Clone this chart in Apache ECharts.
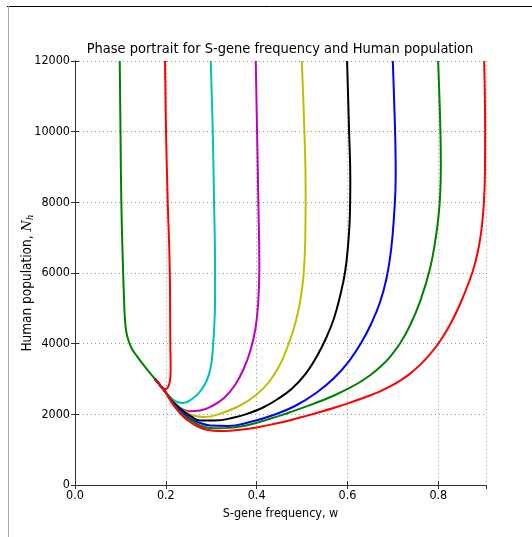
<!DOCTYPE html>
<html><head><meta charset="utf-8">
<script src="https://cdn.jsdelivr.net/npm/echarts@6/dist/echarts.min.js"></script>
<style>html,body{margin:0;padding:0;background:#fff}#c{width:532px;height:537px}</style>
</head><body><div id="c"></div>
<script>
// Tick labels
const xTicks = [0.0, 0.2, 0.4, 0.6, 0.8];
const yTicks = [0, 2000, 4000, 6000, 8000, 10000, 12000];
// Initial S-gene frequencies (one trajectory each)
const startW = [0.1, 0.2, 0.3, 0.4, 0.5, 0.6, 0.7, 0.8, 0.9];
const curveColors = ['#008000', '#ff0000', '#00bfbf', '#bf00bf', '#bfbf00', '#000000', '#0000ff', '#008000', '#ff0000'];

// Trajectories [w, N_h]
const traj01 = [[0.0985,12000],[0.1002,10019],[0.1020,8018],[0.1057,6142],[0.1079,5292],[0.1101,4670],[0.1134,4302],[0.1189,4047],[0.1256,3849],[0.1344,3679],[0.1542,3340],[0.1762,3000],[0.1872,2830],[0.1982,2646]];
const traj02 = [[0.1982,12000],[0.2004,10019],[0.2042,8018],[0.2086,6142],[0.2099,4010],[0.2106,3255],[0.2093,2972],[0.2059,2802],[0.2004,2717],[0.1938,2731],[0.1850,2858],[0.1762,3000]];
const traj03 = [[0.2989,12000],[0.3033,10019],[0.3062,8018],[0.3084,6142],[0.3084,5236],[0.3062,4387],[0.3033,3821],[0.2985,3311],[0.2896,2943],[0.2753,2641],[0.2577,2434],[0.2385,2321],[0.2225,2363],[0.2093,2491],[0.1982,2646],[0.1872,2830],[0.1762,3000]];
const traj04 = [[0.3980,12000],[0.4009,10019],[0.4037,8018],[0.4059,6142],[0.4037,5236],[0.3976,4443],[0.3866,3821],[0.3722,3311],[0.3524,2830],[0.3282,2462],[0.3018,2236],[0.2753,2108],[0.2533,2086],[0.2313,2179],[0.2137,2377],[0.1982,2646],[0.1872,2830],[0.1762,3000]];
const traj05 = [[0.4993,12000],[0.5051,10019],[0.5079,8349],[0.5070,6934],[0.5033,5943],[0.4956,5179],[0.4846,4557],[0.4703,3991],[0.4515,3410],[0.4273,2915],[0.3987,2547],[0.3634,2250],[0.3238,2038],[0.2863,1925],[0.2599,1967],[0.2385,2123],[0.2181,2349],[0.1982,2646],[0.1872,2830],[0.1762,3000]];
const traj06 = [[0.5991,12000],[0.6035,10019],[0.6062,8632],[0.6053,7642],[0.6013,6792],[0.5947,6028],[0.5837,5349],[0.5705,4726],[0.5540,4189],[0.5330,3651],[0.5077,3142],[0.4780,2731],[0.4449,2420],[0.4119,2179],[0.3811,2024],[0.3480,1902],[0.3084,1825],[0.2753,1825],[0.2555,1939],[0.2385,2094],[0.2181,2321],[0.1982,2646],[0.1872,2830],[0.1762,3000]];
const traj07 = [[0.6998,12000],[0.7048,10019],[0.7062,8774],[0.7026,7642],[0.6960,6651],[0.6861,5859],[0.6718,5179],[0.6520,4557],[0.6300,4019],[0.6035,3509],[0.5705,3028],[0.5308,2604],[0.4846,2236],[0.4339,1967],[0.3855,1783],[0.3370,1670],[0.2974,1684],[0.2753,1755],[0.2555,1868],[0.2385,2029],[0.2181,2292],[0.1982,2646],[0.1872,2830],[0.1762,3000]];
const traj08 = [[0.7996,12000],[0.8046,10019],[0.8055,8972],[0.8040,8208],[0.8007,7642],[0.7952,7076],[0.7819,6133],[0.7599,5199],[0.7379,4520],[0.7159,4010],[0.6938,3628],[0.6718,3337],[0.6498,3105],[0.6278,2915],[0.6057,2754],[0.5727,2547],[0.5396,2369],[0.5066,2210],[0.4736,2060],[0.4515,1964],[0.4295,1874],[0.4075,1789],[0.3855,1715],[0.3634,1658],[0.3414,1622],[0.3194,1605],[0.2974,1613],[0.2753,1684],[0.2555,1825],[0.2385,1981],[0.2181,2264],[0.1982,2646],[0.1872,2830],[0.1762,3000]];
const traj09 = [[0.9009,12000],[0.9031,10019],[0.9026,8774],[0.9000,7925],[0.8960,7330],[0.8899,6792],[0.8811,6283],[0.8700,5830],[0.8480,5123],[0.8260,4542],[0.8040,4075],[0.7819,3702],[0.7599,3399],[0.7379,3153],[0.7159,2952],[0.6938,2788],[0.6718,2652],[0.6388,2482],[0.6057,2332],[0.5727,2193],[0.5396,2066],[0.5066,1947],[0.4736,1834],[0.4405,1735],[0.4075,1647],[0.3744,1579],[0.3414,1537],[0.3150,1525],[0.2930,1557],[0.2753,1627],[0.2555,1769],[0.2385,1933],[0.2181,2236],[0.1982,2646],[0.1872,2830],[0.1762,3000]];
const trajectories = [traj01, traj02, traj03, traj04, traj05, traj06, traj07, traj08, traj09];

const FONT = 'DejaVu Sans Condensed, DejaVu Sans';
const chart = echarts.init(document.getElementById('c'), null, {renderer: 'canvas'});
const axisLineStyle = {color: '#333', width: 1};
const series = trajectories.map((d, i) => ({
  type: 'line', name: 'w0=' + startW[i], data: d, showSymbol: false, smooth: 0.45,
  lineStyle: {color: curveColors[i], width: 2}, itemStyle: {color: curveColors[i]},
  animation: false, z: 3 + i
}));
chart.setOption({
  animation: false,
  backgroundColor: '#fff',
  title: {text: 'Phase portrait for S-gene frequency and Human population', left: 275, textAlign: 'center', top: 37,
    textStyle: {fontFamily: FONT, fontSize: 14.5, fontWeight: 'normal', color: '#000'}},
  grid: {left: 75, right: 46, top: 61, bottom: 52, containLabel: false, outerBoundsMode: 'none'},
  xAxis: [{
    type: 'value', min: 0, max: 0.905, interval: 0.2, position: 'bottom',
    name: 'S-gene frequency, w', nameLocation: 'middle', nameGap: 22,
    nameTextStyle: {fontFamily: FONT, fontSize: 12.5, color: '#000'},
    axisLine: {show: true, lineStyle: axisLineStyle},
    axisTick: {show: true, inside: true, length: 4, lineStyle: axisLineStyle},
    axisLabel: {fontFamily: FONT, fontSize: 12.5, color: '#000', margin: 4, formatter: v => v.toFixed(1), showMaxLabel: false},
    splitLine: {show: true, lineStyle: {color: '#999', type: [1, 3], width: 1}}
  }, {
    type: 'value', min: 0, max: 0.905, interval: 0.2, position: 'top',
    axisLine: {show: true, lineStyle: axisLineStyle},
    axisTick: {show: true, inside: true, length: 4, lineStyle: axisLineStyle},
    axisLabel: {show: false}, splitLine: {show: false}
  }],
  yAxis: [{
    type: 'value', min: 0, max: 12000, interval: 2000, position: 'left',
    name: '{a|Human population, }{i|N}{s|h}', nameLocation: 'middle', nameGap: 40, nameRotate: 90, nameMoveOverlap: false,
    nameTextStyle: {fontFamily: FONT, fontSize: 13.5, color: '#000', padding: [0, 20, 0, 0],
      rich: {a: {fontFamily: FONT, fontSize: 13.5, color: '#000'},
             i: {fontFamily: 'DejaVu Serif', fontStyle: 'italic', fontSize: 13, color: '#000'},
             s: {fontFamily: 'DejaVu Serif', fontStyle: 'italic', fontSize: 9, color: '#000', verticalAlign: 'bottom', padding: [6, 0, 0, 0]}}},
    axisLine: {show: true, lineStyle: axisLineStyle},
    axisTick: {show: true, inside: true, length: 4, lineStyle: axisLineStyle},
    axisLabel: {fontFamily: FONT, fontSize: 12.5, color: '#000', margin: 5, formatter: v => String(v)},
    splitLine: {show: true, lineStyle: {color: '#999', type: [1, 3], width: 1}}
  }, {
    type: 'value', min: 0, max: 12000, interval: 2000, position: 'right',
    axisLine: {show: true, lineStyle: axisLineStyle},
    axisTick: {show: true, inside: true, length: 4, lineStyle: axisLineStyle},
    axisLabel: {show: false}, splitLine: {show: false}
  }],
  graphic: [
    {type: 'line', shape: {x1: 7, y1: 6.5, x2: 532, y2: 6.5}, style: {stroke: '#000', lineWidth: 1}},
    {type: 'line', shape: {x1: 8.5, y1: 6, x2: 8.5, y2: 537}, style: {stroke: '#aaa', lineWidth: 1}}
  ],
  series: series
});
</script>
</body></html>
